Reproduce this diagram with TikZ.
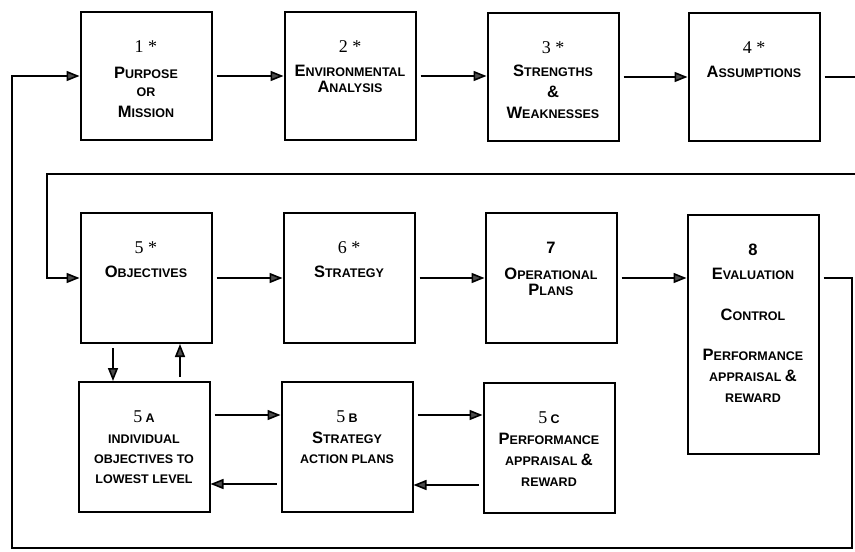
\documentclass[tikz,border=0pt]{standalone}
\usepackage{fontspec}
\setmainfont{Liberation Sans}
\newfontfamily\numfont{Liberation Serif}
\usetikzlibrary{arrows.meta}
\newcommand\bigc[1]{{\fontsize{16.5}{21}\selectfont #1}}
\newcommand\num[1]{{\numfont\mdseries\fontsize{18}{21}\selectfont #1}}
\newcommand\stagebox[2]{\parbox[c][#1][t]{131pt}{\centering\fontsize{12.5}{21}\selectfont\bfseries\vspace*{29pt}#2}}
\begin{document}
\begin{tikzpicture}[x=1pt,y=-1pt,
    stage/.style={draw,line width=2pt,inner sep=0pt},
    flow/.style={line width=1.6pt,shorten <=4pt,-{Triangle[length=13pt,width=10pt,fill=black!70]}}]
  \useasboundingbox (0,0) rectangle (855,552);
  \draw
    (146,76) node[stage] (p1) {\stagebox{128pt}{\num{1 *}\\[5pt] \bigc{P}URPOSE\\[-3pt] OR\\ \bigc{M}ISSION}}
    (350,76) node[stage] (p2) {\stagebox{128pt}{\num{2 *}\\[3pt] \bigc{E}NVIRONMENTAL\\[-5pt] \bigc{A}NALYSIS}}
    (553,77) node[stage] (p3) {\stagebox{128pt}{\num{3 *}\\[2pt] \bigc{S}TRENGTHS\\ \bigc{\&}\\ \bigc{W}EAKNESSES}}
    (754,77) node[stage] (p4) {\stagebox{128pt}{\num{4 *}\\[3pt] \bigc{A}SSUMPTIONS}}
    (146,278) node[stage] (o5) {\stagebox{130pt}{\num{5 *}\\[3pt] \bigc{O}BJECTIVES}}
    (349,278) node[stage] (s6) {\stagebox{130pt}{\num{6 *}\\[3pt] \bigc{S}TRATEGY}}
    (551,278) node[stage] (op7) {\stagebox{130pt}{\bigc{7}\\[5pt] \bigc{O}PERATIONAL\\[-5pt] \bigc{P}LANS}}
    (753,334) node[stage] (e8) {\stagebox{239pt}{\bigc{8}\\[3pt] \bigc{E}VALUATION\\[20pt] \bigc{C}ONTROL\\[19pt] \bigc{P}ERFORMANCE\\ APPRAISAL \bigc{\&}\\ REWARD}}
    (144,447) node[stage] (a5) {\stagebox{130pt}{\num{5} A\\ INDIVIDUAL\\[-1pt] OBJECTIVES TO\\[-1pt] LOWEST LEVEL}}
    (347,447) node[stage] (b5) {\stagebox{130pt}{\num{5} B\\ \bigc{S}TRATEGY\\[-1pt] ACTION PLANS}}
    (549,448) node[stage] (c5) {\stagebox{130pt}{\num{5} C\\ \bigc{P}ERFORMANCE\\ APPRAISAL \bigc{\&}\\ REWARD}};
  \coordinate (turnA) at (875,174);
  \coordinate (turnB) at (47,174);
  \coordinate (turnC) at (852,548);
  \coordinate (turnD) at (12,548);
  \begin{scope}[flow]
    \draw (p1) to (p2);
    \draw (p2.east) to (p2.east -| p3.west);
    \draw (p3) to (p4);
    \draw (p4.east) -| (turnA) -- (turnB) |- (o5.west);
    \draw (o5) to (s6);
    \draw (s6) to (op7);
    \draw (op7.east) to (op7.east -| e8.west);
    \draw (op7.east -| e8.east) -| (turnC) -- (turnD) |- (p1.west);
    \draw ([xshift=-33pt]o5.south) to ([xshift=-33pt]o5.south |- a5.north);
    \draw ([xshift=36pt]a5.north) to ([xshift=36pt]a5.north |- o5.south);
    \draw ([yshift=32pt]a5.east) to ([yshift=32pt]a5.east -| b5.west);
    \draw ([yshift=-37pt]b5.west) to ([yshift=-37pt]b5.west -| a5.east);
    \draw ([yshift=32pt]b5.east) to ([yshift=32pt]b5.east -| c5.west);
    \draw ([yshift=-37pt]c5.west) to ([yshift=-37pt]c5.west -| b5.east);
  \end{scope}
\end{tikzpicture}
\end{document}
